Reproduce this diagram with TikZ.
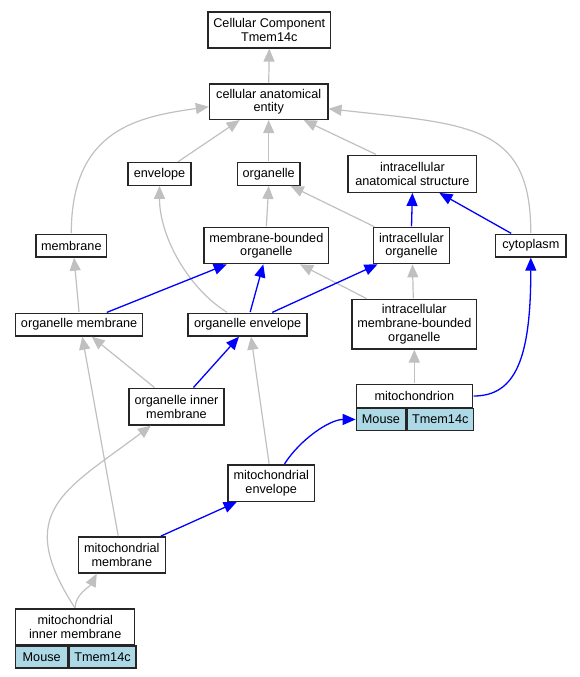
\documentclass[tikz,border=0pt]{standalone}
\usepackage{fontspec}
\setmainfont{Liberation Sans}
\usetikzlibrary{arrows.meta}
\definecolor{isagray}{HTML}{C0C0C0}
\definecolor{partblue}{HTML}{0000FF}
\definecolor{annotblue}{HTML}{ADD8E6}
\begin{document}
\begin{tikzpicture}[x=1pt,y=-1pt,
        term/.style={draw=black!85,line width=1.3pt,fill=white,inner sep=0pt,align=center,
            font=\fontsize{12.67pt}{13.6pt}\selectfont},
        annot/.style={term,fill=annotblue,anchor=north west},
        isaedge/.style={draw=isagray,line width=1.2pt,shorten <=0.7pt,-{Triangle[length=13pt,width=11pt]}},
        partedge/.style={draw=partblue,line width=1.3pt,shorten <=0.7pt,-{Triangle[length=13pt,width=11pt]}}]
    \useasboundingbox (0,0) rectangle (580,677);

    % GO terms
    \node[term,minimum width=122.7pt,minimum height=36pt] (cc) at (269.3,30) {Cellular Component\\Tmem14c};
    \node[term,minimum width=118.5pt,minimum height=35.5pt] (cae) at (268.7,101.7) {cellular anatomical\\entity};
    \node[term,minimum width=63pt,minimum height=22.5pt] (env) at (159.5,174) {envelope};
    \node[term,minimum width=62.6pt,minimum height=22.5pt] (org) at (268.7,174) {organelle};
    \node[term,minimum width=128.6pt,minimum height=37pt] (ias) at (412.4,173.8) {intracellular\\anatomical structure};
    \node[term,minimum width=70.8pt,minimum height=22.7pt] (mem) at (71.3,245.7) {membrane};
    \node[term,minimum width=124.5pt,minimum height=36pt] (mbo) at (266.3,245.7) {membrane-bounded\\organelle};
    \node[term,minimum width=76.3pt,minimum height=36pt] (io) at (411.5,245.7) {intracellular\\organelle};
    \node[term,minimum width=70.4pt,minimum height=22.7pt] (cyt) at (530.8,245.7) {cytoplasm};
    \node[term,minimum width=127pt,minimum height=22.7pt] (om) at (79.1,324.7) {organelle membrane};
    \node[term,minimum width=119pt,minimum height=22.7pt] (oe) at (247.6,324.7) {organelle envelope};
    \node[term,minimum width=124.8pt,minimum height=49.3pt] (imbo) at (414.3,324.3) {intracellular\\membrane-bounded\\organelle};
    \node[term,minimum width=95.1pt,minimum height=36.3pt] (oim) at (176.5,406.8) {organelle inner\\membrane};
    \node[term,minimum width=86.3pt,minimum height=36.3pt] (me) at (271.2,483.2) {mitochondrial\\envelope};
    \node[term,minimum width=87pt,minimum height=36pt] (mm) at (121.8,555) {mitochondrial\\membrane};

    % annotated terms
    \node[term,minimum width=116pt,minimum height=22.6pt] (mito) at (414.3,396) {mitochondrion};
    \node[annot,minimum width=49.3pt,minimum height=21.7pt] (mitoms) at (mito.south west) {Mouse};
    \node[annot,minimum width=66.7pt,minimum height=21.7pt] (mitotm) at (mitoms.north east) {Tmem14c};
    \node[term,minimum width=119pt,minimum height=35.7pt] (mim) at (75.2,626.8) {mitochondrial\\inner membrane};
    \node[annot,minimum width=52pt,minimum height=22pt] (mimms) at (mim.south west) {Mouse};
    \node[annot,minimum width=67pt,minimum height=22pt] (mimtm) at (mimms.north east) {Tmem14c};

    % is_a
    \draw[isaedge] (cae.north) -- (cc.south);
    \draw[isaedge] ([xshift=18pt]env.north) -- ([xshift=-29pt]cae.south);
    \draw[isaedge] (org.north) -- (cae.south);
    \draw[isaedge] ([xshift=-36pt]ias.north) -- ([xshift=35pt]cae.south);
    \draw[isaedge] (mem.north) .. controls +(0,-105) and +(-70,10) .. ([yshift=-5pt]cae.west);
    \draw[isaedge] (cyt.north) .. controls +(0,-110) and +(141,16) .. ([yshift=-7pt]cae.east);
    \draw[isaedge] (mbo.north) -- (org.south);
    \draw[isaedge] ([xshift=-36.5pt]io.north) -- ([xshift=22pt]org.south);
    \draw[isaedge] (om.north) -- ([xshift=2.7pt]mem.south);
    \draw[isaedge] ([xshift=-20pt]oe.north) .. controls +(-40,-25) and +(0,50) .. (env.south);
    \draw[isaedge] ([xshift=-47pt]imbo.north) -- ([xshift=33.7pt]mbo.south);
    \draw[isaedge] ([xshift=-1pt]imbo.north) -- ([xshift=1pt]io.south);
    \draw[isaedge] (mito.north) -- (imbo.south);
    \draw[isaedge] ([xshift=-21.5pt]oim.north) -- ([xshift=12.6pt]om.south);
    \draw[isaedge] ([xshift=-2pt]me.north) -- ([xshift=3.4pt]oe.south);
    \draw[isaedge] ([xshift=-3.5pt]mm.north) -- ([xshift=3.2pt]om.south);
    \draw[isaedge] (mim.north) .. controls +(-63,-97) and +(-85,64) .. ([xshift=-25.5pt]oim.south);
    \draw[isaedge] (mim.north) .. controls +(0,-14) and +(-7,13) .. ([xshift=-25pt]mm.south);

    % part_of
    \draw[partedge] (io.north) -- (ias.south);
    \draw[partedge] ([xshift=-19pt]cyt.north) -- ([xshift=27pt]ias.south);
    \draw[partedge] ([xshift=27pt]om.north) -- ([xshift=-39.6pt]mbo.south);
    \draw[partedge] ([xshift=2.4pt]oe.north) -- ([xshift=-3pt]mbo.south);
    \draw[partedge] ([xshift=24pt]oe.north) -- ([xshift=-34pt]io.south);
    \draw[partedge] (mito.east) .. controls +(43,0) and +(0,100) .. (cyt.south);
    \draw[partedge] ([xshift=16.5pt]oim.north) -- ([xshift=-8.6pt]oe.south);
    \draw[partedge] ([xshift=13pt]me.north) .. controls +(16,-25) and +(-26,0) .. (mitoms.west);
    \draw[partedge] ([xshift=38.5pt]mm.north) -- ([xshift=-34.5pt]me.south);
\end{tikzpicture}
\end{document}
